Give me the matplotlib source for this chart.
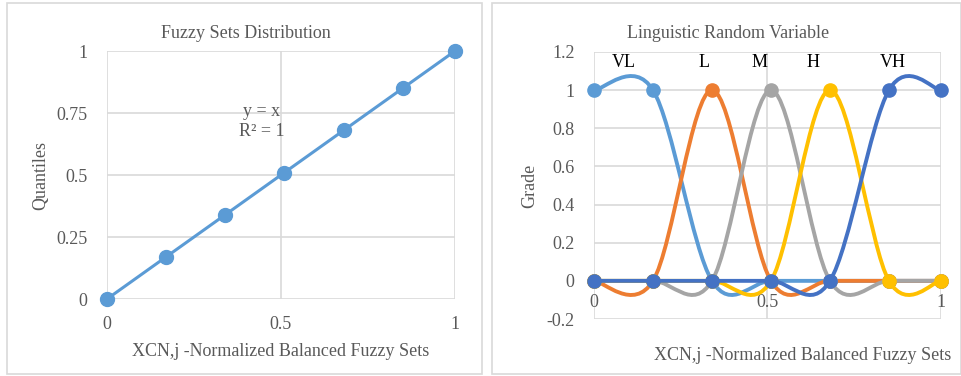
import matplotlib.pyplot as plt
from matplotlib.patches import PathPatch, Rectangle
from matplotlib.path import Path
import numpy as np

plt.rcParams["font.family"] = ["Liberation Serif", "DejaVu Serif"]

# data
x_pts = [0, 0.17, 0.34, 0.51, 0.68, 0.85, 1]
quantiles = [0, 0.17, 0.34, 0.51, 0.68, 0.85, 1]

set_names = ["VL", "L", "M", "H", "VH"]
grades = {
    "VL": [1, 1, 0, 0, 0, 0, 0],
    "L": [0, 0, 1, 0, 0, 0, 0],
    "M": [0, 0, 0, 1, 0, 0, 0],
    "H": [0, 0, 0, 0, 1, 0, 0],
    "VH": [0, 0, 0, 0, 0, 1, 1],
}
label_x = [0.085, 0.317, 0.478, 0.631, 0.862]
label_y = 1.147

colors = {"VL": "#5B9BD5", "L": "#ED7D31", "M": "#A5A5A5",
          "H": "#FFC000", "VH": "#4472C4"}
GRID = "#D9D9D9"
TXT = "#595959"
FS = 13


def smooth_path(xs, ys):
    """Excel-style smoothed line (Catmull-Rom as cubic Bezier)."""
    p = np.column_stack([xs, ys]).astype(float)
    ext = np.vstack([p[0], p, p[-1]])
    verts = [p[0]]
    codes = [Path.MOVETO]
    for i in range(len(p) - 1):
        p0, p1, p2, p3 = ext[i], ext[i + 1], ext[i + 2], ext[i + 3]
        verts += [p1 + (p2 - p0) / 6, p2 - (p3 - p1) / 6, p2]
        codes += [Path.CURVE4] * 3
    return Path(verts, codes)


fig = plt.figure(figsize=(9.62, 3.76), dpi=100)

# panel frames
for x0, x1 in [(7, 482), (492, 961)]:
    fig.patches.append(Rectangle((x0 / 962, 2 / 376), (x1 - x0) / 962, 371 / 376,
                                 transform=fig.transFigure, fill=False,
                                 edgecolor=GRID, linewidth=1.2))

# ---- left: fuzzy sets distribution
ax1 = fig.add_axes([107 / 962, 1 - 299 / 376, 348 / 962, 248 / 376])
ax1.set_xlim(0, 1)
ax1.set_ylim(0, 1)
ax1.set_xticks([0, 0.5, 1])
ax1.set_xticklabels(["0", "0.5", "1"])
ax1.set_yticks([0, 0.25, 0.5, 0.75, 1])
ax1.set_yticklabels(["0", "0.25", "0.5", "0.75", "1"])
ax1.grid(True, color=GRID, linewidth=1.2)
ax1.set_axisbelow(True)
for s in ax1.spines.values():
    s.set_visible(False)
ax1.tick_params(length=0, labelsize=FS, labelcolor=TXT, pad=12)
ax1.tick_params(axis="y", pad=14)
ax1.plot(x_pts, quantiles, "o", color="#5B9BD5", markersize=10, clip_on=False, zorder=3)
coef = np.polyfit(x_pts, quantiles, 1)
xx = np.array([0, 1])
ax1.plot(xx, np.polyval(coef, xx), color="#5B9BD5", linewidth=2.2, clip_on=False, zorder=4)
ax1.text(0.445, 0.715, "y = x\nR² = 1", ha="center", va="center", fontsize=FS,
         color=TXT, linespacing=1.2)
fig.text(246 / 962, 1 - 33 / 376, "Fuzzy Sets Distribution", ha="center", va="center",
         fontsize=FS, color=TXT)
fig.text(281 / 962, 1 - 351 / 376, "XCN,j -Normalized Balanced Fuzzy Sets",
         ha="center", va="center", fontsize=FS, color=TXT)
fig.text(41 / 962, 1 - 175 / 376, "Quantiles", ha="center", va="center",
         rotation=90, fontsize=FS, color=TXT)

# ---- right: linguistic random variable
ax2 = fig.add_axes([594 / 962, 1 - 319 / 376, 347 / 962, 267 / 376])
ax2.set_xlim(0, 1)
ax2.set_ylim(-0.2, 1.2)
ax2.set_xticks([0, 0.5, 1])
ax2.set_xticklabels([])
yt = [-0.2, 0, 0.2, 0.4, 0.6, 0.8, 1, 1.2]
ax2.set_yticks(yt)
ax2.set_yticklabels(["-0.2", "0", "0.2", "0.4", "0.6", "0.8", "1", "1.2"])
ax2.grid(True, color=GRID, linewidth=1.2)
ax2.set_axisbelow(True)
for s in ax2.spines.values():
    s.set_visible(False)
ax2.tick_params(length=0, labelsize=FS, labelcolor=TXT, pad=14)
for xt, lab in zip([0, 0.5, 1], ["0", "0.5", "1"]):
    ax2.text(xt, -0.115, lab, ha="center", va="center", fontsize=FS, color=TXT)

for name in set_names:
    c = colors[name]
    ax2.add_patch(PathPatch(smooth_path(x_pts, grades[name]), fill=False,
                            edgecolor=c, linewidth=2.8, clip_on=False, zorder=3))
    ax2.plot(x_pts, grades[name], "o", color=c, markersize=9.5, clip_on=False, zorder=3)

for name, lx in zip(set_names, label_x):
    ax2.text(lx, label_y, name, ha="center", va="center", fontsize=FS, color="black")

fig.text(728 / 962, 1 - 33 / 376, "Linguistic Random Variable", ha="center", va="center",
         fontsize=FS, color=TXT)
fig.text(803 / 962, 1 - 355 / 376, "XCN,j -Normalized Balanced Fuzzy Sets",
         ha="center", va="center", fontsize=FS, color=TXT)
fig.text(530 / 962, 1 - 186 / 376, "Grade", ha="center", va="center",
         rotation=90, fontsize=FS, color=TXT)

fig.savefig("out.png", dpi=100, facecolor="white")
